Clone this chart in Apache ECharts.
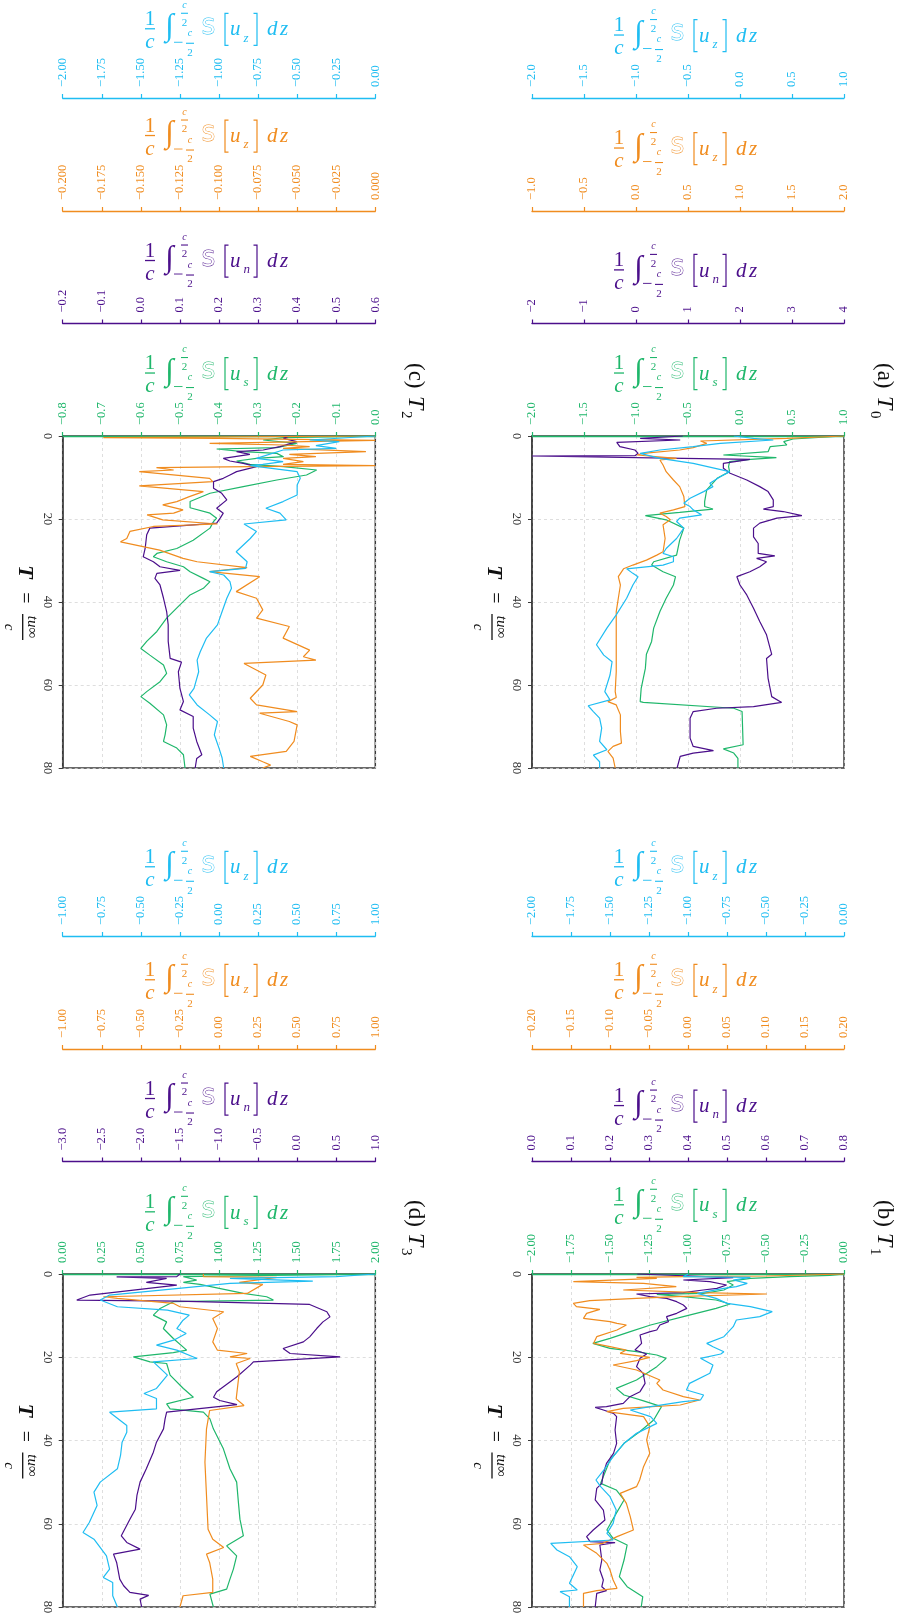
<!DOCTYPE html>
<html><head><meta charset="utf-8">
<script src="https://cdn.jsdelivr.net/npm/echarts@6/dist/echarts.min.js"></script>
<style>html,body{margin:0;padding:0;background:#fff}#c{width:903px;height:1617px}</style>
</head><body><div id="c"></div>
<script>
// ---------- tick ranges [min, max, interval, decimals] ----------
const A_green_axis  = [-2, 1, 0.5, 1];
const A_purple_axis = [-2, 4, 1, 0];
const A_orange_axis = [-1, 2, 0.5, 1];
const A_cyan_axis   = [-2, 1, 0.5, 1];
const B_green_axis  = [-2, 0, 0.25, 2];
const B_purple_axis = [0, 0.8, 0.1, 1];
const B_orange_axis = [-0.2, 0.2, 0.05, 2];
const B_cyan_axis   = [-2, 0, 0.25, 2];
const C_green_axis  = [-0.8, 0, 0.1, 1];
const C_purple_axis = [-0.2, 0.6, 0.1, 1];
const C_orange_axis = [-0.2, 0, 0.025, 3];
const C_cyan_axis   = [-2, 0, 0.25, 2];
const D_green_axis  = [0, 2, 0.25, 2];
const D_purple_axis = [-3, 1, 0.5, 1];
const D_orange_axis = [-1, 1, 0.25, 2];
const D_cyan_axis   = [-1, 1, 0.25, 2];
const T_ticks = [0, 20, 40, 60, 80];

// ---------- data: [T, value] ----------
const A_purple = [[0,0.9],[0.4,0.91],[0.56,0.08],[0.96,0.85],[1.53,-0.37],[2.57,-0.31],[3.37,-0.02],[4.18,0.04],[4.74,-0.02],[4.82,-2.0],[5.38,0.91],[5.62,2.19],[6.58,1.68],[7.79,1.68],[8.99,1.81],[10.6,2.13],[12.2,2.38],[13.4,2.54],[15.4,2.64],[17.0,2.64],[17.6,2.45],[18.2,2.83],[19.2,3.19],[19.8,2.71],[21.0,2.38],[22.2,2.26],[24.3,2.26],[25.9,2.35],[28.3,2.35],[28.9,2.67],[29.5,2.32],[30.3,2.51],[31.5,2.38],[32.7,2.19],[33.9,1.94],[35.9,2.0],[38.3,2.13],[41.5,2.26],[44.7,2.38],[47.9,2.51],[52.6,2.61],[53.6,2.51],[58.4,2.54],[62.8,2.61],[64.2,2.80],[65.2,2.26],[65.6,1.55],[66.4,1.10],[68.0,1.04],[72.8,1.04],[74.8,1.10],[75.8,1.49],[76.4,1.10],[77.2,0.85],[80,0.79]];
const A_green = [[0,1.0],[0.72,0.51],[1.36,0.42],[2.17,0.45],[2.57,0.29],[3.77,0.27],[4.58,-0.16],[5.22,0.35],[5.62,0.10],[6.18,-0.10],[7.39,-0.11],[8.59,-0.10],[10.2,-0.22],[13.0,-0.32],[15.8,-0.34],[17.0,-0.34],[17.6,-0.26],[18.4,-0.58],[19.2,-0.91],[20.2,-0.71],[22.2,-0.54],[25.1,-0.58],[28.7,-0.61],[30.3,-0.83],[31.1,-0.85],[32.7,-0.74],[33.9,-0.62],[35.9,-0.64],[39.1,-0.71],[42.3,-0.77],[46.3,-0.83],[49.5,-0.85],[52.6,-0.90],[56.0,-0.91],[60.8,-0.95],[64.0,-0.96],[64.2,-0.93],[65.6,-0.06],[66.4,0.02],[74.4,0.03],[75.4,-0.16],[76.4,-0.06],[77.7,-0.02],[80,-0.02]];
const A_orange = [[0,2.0],[0.56,1.45],[1.2,0.62],[1.77,0.68],[2.81,0.55],[3.37,0.42],[4.18,0.07],[4.58,0.01],[5.38,0.39],[5.78,0.23],[6.99,0.26],[8.59,0.29],[10.6,0.36],[12.2,0.42],[14.6,0.46],[17.0,0.47],[17.8,0.36],[18.6,0.23],[19.4,0.29],[20.2,0.33],[21.4,0.26],[24.7,0.28],[27.9,0.26],[28.7,0.20],[29.9,0.10],[31.1,-0.03],[32.0,-0.12],[33.9,-0.17],[35.9,-0.15],[39.1,-0.17],[42.3,-0.19],[47.1,-0.19],[52.0,-0.19],[56.8,-0.19],[61.6,-0.20],[63.0,-0.19],[64.0,-0.27],[64.8,-0.19],[67.2,-0.15],[71.2,-0.15],[74.0,-0.14],[74.8,-0.22],[76.0,-0.27],[77.6,-0.22],[80,-0.20]];
const A_cyan = [[0,-0.06],[0.56,0.13],[0.96,0.32],[1.77,-0.19],[2.57,-0.45],[3.37,-0.77],[4.18,-0.96],[5.38,-0.77],[6.58,-0.45],[8.59,-0.10],[9.8,-0.19],[11.4,-0.29],[12.2,-0.26],[13.4,-0.35],[15.0,-0.48],[16.2,-0.54],[17.0,-0.48],[17.8,-0.45],[19.0,-0.37],[19.8,-0.58],[20.6,-0.61],[22.2,-0.54],[24.7,-0.61],[27.1,-0.71],[28.3,-0.74],[29.1,-0.64],[30.3,-0.64],[31.1,-0.74],[32.0,-1.09],[33.1,-1.03],[33.9,-0.98],[35.9,-1.03],[39.1,-1.09],[43.1,-1.19],[46.3,-1.28],[50.3,-1.38],[52.8,-1.31],[54.4,-1.23],[57.6,-1.25],[61.6,-1.30],[63.6,-1.25],[65.0,-1.46],[66.4,-1.41],[68.0,-1.35],[70.4,-1.33],[73.6,-1.35],[75.6,-1.28],[76.9,-1.41],[78.5,-1.35],[80,-1.35]];

const B_green = [[0,0.0],[0.32,-0.09],[0.64,-0.35],[1.04,-0.60],[1.84,-0.75],[2.64,-0.71],[3.84,-0.77],[4.64,-0.90],[4.88,-1.20],[5.45,-1.03],[6.25,-0.82],[7.21,-0.73],[8.25,-0.82],[10.25,-1.03],[12.25,-1.24],[13.85,-1.37],[15.46,-1.50],[16.66,-1.61],[17.86,-1.50],[18.66,-1.33],[19.46,-1.20],[20.26,-1.14],[22.26,-1.20],[25.47,-1.33],[27.47,-1.46],[29.07,-1.41],[30.43,-1.29],[31.87,-1.17],[35.08,-1.22],[37.88,-1.31],[40.68,-1.41],[44.69,-1.50],[50.29,-1.56],[51.89,-1.46],[54.29,-1.41],[57.5,-1.46],[61.5,-1.52],[63.5,-1.48],[65.1,-1.39],[68.71,-1.41],[72.71,-1.44],[75.12,-1.39],[77.52,-1.29],[80,-1.30]];
const B_purple = [[0,0.27],[0.48,0.268],[0.88,0.516],[1.44,0.388],[1.84,0.456],[2.64,0.499],[3.44,0.474],[3.84,0.439],[4.48,0.388],[4.80,0.268],[5.45,0.303],[5.85,0.345],[6.65,0.371],[7.45,0.388],[8.25,0.397],[9.45,0.371],[10.25,0.345],[11.45,0.350],[12.25,0.328],[13.45,0.320],[13.85,0.303],[14.65,0.277],[16.66,0.281],[18.26,0.264],[19.22,0.294],[20.26,0.277],[22.26,0.268],[23.86,0.285],[26.27,0.290],[28.27,0.277],[29.47,0.251],[31.07,0.234],[31.87,0.191],[32.03,0.162],[32.67,0.183],[33.47,0.209],[34.27,0.217],[37.48,0.213],[40.68,0.217],[43.08,0.209],[45.49,0.191],[47.89,0.183],[50.29,0.179],[51.49,0.166],[54.29,0.162],[56.70,0.183],[59.10,0.187],[61.50,0.157],[63.10,0.140],[64.30,0.149],[64.55,0.213],[65.10,0.174],[68.71,0.179],[71.11,0.174],[73.51,0.183],[75.12,0.179],[76.08,0.191],[76.72,0.166],[80,0.162]];
const B_orange = [[0,0.2],[0.16,0.200],[0.48,0.101],[0.64,-0.006],[0.80,-0.066],[1.04,-0.040],[1.84,-0.147],[2.24,-0.057],[3.04,-0.015],[3.84,-0.083],[4.48,0.015],[4.80,0.101],[5.45,-0.015],[5.85,-0.066],[6.41,-0.126],[7.05,-0.147],[7.85,-0.143],[8.49,-0.113],[9.45,-0.130],[10.65,-0.134],[11.45,-0.100],[11.85,-0.091],[12.25,-0.079],[13.45,-0.091],[15.06,-0.117],[16.66,-0.121],[17.46,-0.100],[18.26,-0.079],[19.06,-0.087],[20.02,-0.049],[20.82,-0.066],[21.86,-0.096],[23.06,-0.066],[25.47,-0.036],[26.27,-0.040],[27.87,-0.032],[29.47,-0.006],[30.27,0.015],[31.47,-0.010],[32.27,-0.083],[33.07,-0.104],[34.27,-0.057],[36.68,-0.049],[39.88,-0.053],[43.08,-0.049],[46.29,-0.057],[49.49,-0.062],[51.09,-0.066],[52.69,-0.087],[55.10,-0.079],[58.30,-0.074],[61.50,-0.070],[63.10,-0.091],[64.70,-0.109],[65.10,-0.134],[67.11,-0.117],[69.51,-0.104],[71.11,-0.100],[73.51,-0.096],[75.51,-0.091],[76.08,-0.117],[76.72,-0.134],[80,-0.134]];
const B_cyan = [[0,-1.0],[0.64,-1.03],[0.80,-0.60],[1.44,-0.71],[2.24,-0.62],[3.04,-0.69],[3.44,-0.77],[4.64,-0.94],[5.85,-0.82],[7.05,-0.75],[7.85,-0.60],[9.05,-0.46],[10.25,-0.54],[11.05,-0.69],[12.65,-0.71],[15.06,-0.77],[16.66,-0.88],[17.46,-0.84],[18.66,-0.77],[19.22,-0.79],[20.26,-0.92],[21.86,-0.84],[23.86,-0.86],[26.27,-0.99],[27.87,-1.01],[29.07,-0.90],[30.27,-0.92],[30.67,-1.03],[31.87,-1.24],[32.67,-1.37],[34.27,-1.24],[35.88,-1.20],[38.28,-1.33],[40.68,-1.41],[43.88,-1.48],[47.09,-1.54],[49.49,-1.59],[51.09,-1.56],[53.49,-1.50],[56.70,-1.46],[59.90,-1.48],[62.30,-1.52],[63.90,-1.48],[64.70,-1.88],[66.30,-1.84],[67.91,-1.76],[70.31,-1.71],[72.71,-1.74],[74.31,-1.76],[75.92,-1.71],[76.32,-1.82],[77.52,-1.76],[80,-1.76]];

const C_purple = [[0,0.38],[0.56,0.365],[1.37,0.399],[2.57,0.356],[3.37,0.313],[3.77,0.245],[4.42,0.279],[5.38,0.211],[6.02,0.228],[6.58,0.262],[7.39,0.296],[8.59,0.245],[9.39,0.228],[10.2,0.211],[11.0,0.186],[12.6,0.186],[13.8,0.207],[15.4,0.220],[17.4,0.194],[18.6,0.211],[19.8,0.203],[21.0,0.194],[22.2,0.023],[23.8,0.015],[27.1,0.011],[29.1,0.006],[30.3,0.032],[31.5,0.049],[32.4,0.100],[33.1,0.041],[34.3,0.036],[35.9,0.049],[39.1,0.058],[42.3,0.066],[45.5,0.070],[49.5,0.070],[53.6,0.075],[54.5,0.104],[56.8,0.096],[60.8,0.100],[64.0,0.109],[66.0,0.100],[67.6,0.134],[70.4,0.134],[73.6,0.143],[76.8,0.156],[77.7,0.143],[80,0.139]];
const C_green = [[0,0.0],[0.40,-0.235],[0.96,-0.287],[1.77,-0.201],[2.81,-0.252],[3.13,-0.406],[3.77,-0.338],[4.18,-0.252],[4.98,-0.235],[5.38,-0.304],[6.02,-0.355],[6.83,-0.321],[7.39,-0.235],[8.19,-0.150],[9.39,-0.176],[10.6,-0.252],[12.2,-0.338],[13.8,-0.423],[15.8,-0.474],[17.3,-0.474],[18.6,-0.423],[19.8,-0.406],[20.6,-0.414],[22.2,-0.423],[25.1,-0.466],[27.1,-0.508],[28.3,-0.559],[29.1,-0.568],[30.3,-0.534],[31.5,-0.491],[32.7,-0.474],[34.3,-0.440],[35.1,-0.423],[36.7,-0.440],[38.3,-0.474],[40.7,-0.500],[43.9,-0.534],[47.1,-0.559],[49.5,-0.585],[51.2,-0.600],[52.8,-0.577],[55.2,-0.542],[57.2,-0.534],[59.2,-0.551],[61.6,-0.585],[62.8,-0.600],[64.4,-0.577],[67.2,-0.542],[69.6,-0.534],[72.0,-0.538],[73.6,-0.542],[75.2,-0.508],[76.8,-0.491],[80,-0.487]];
const C_orange = [[0,0.0],[0.40,-0.174],[0.56,-0.101],[1.04,0.0],[1.77,-0.106],[2.17,-0.059],[2.57,-0.042],[2.97,-0.059],[3.77,-0.006],[4.42,-0.055],[4.98,-0.038],[5.38,-0.059],[6.18,-0.046],[6.83,-0.059],[7.15,0.0],[7.39,-0.080],[7.63,-0.140],[8.19,-0.129],[8.59,-0.151],[10.2,-0.106],[11.0,-0.104],[12.0,-0.151],[13.4,-0.110],[14.6,-0.119],[15.8,-0.127],[16.6,-0.136],[17.8,-0.123],[18.6,-0.129],[19.0,-0.146],[20.2,-0.136],[21.2,-0.101],[21.8,-0.142],[23.0,-0.157],[24.7,-0.159],[25.5,-0.163],[27.5,-0.138],[29.5,-0.123],[30.3,-0.114],[31.7,-0.082],[32.7,-0.106],[33.9,-0.074],[37.5,-0.089],[39.1,-0.076],[41.9,-0.072],[43.9,-0.076],[45.9,-0.055],[48.7,-0.059],[51.6,-0.042],[53.2,-0.046],[54.0,-0.038],[54.8,-0.084],[57.6,-0.070],[60.0,-0.072],[63.2,-0.080],[64.8,-0.076],[66.4,-0.050],[66.8,-0.074],[68.8,-0.055],[69.6,-0.050],[73.6,-0.052],[76.0,-0.057],[77.2,-0.080],[78.5,-0.072],[79.3,-0.067],[80,-0.072]];
const C_cyan = [[0,0.0],[0.96,-0.42],[1.37,-0.23],[2.33,-0.38],[2.97,-0.25],[3.37,-0.59],[5.38,-0.76],[6.18,-0.59],[6.83,-0.72],[7.15,-0.80],[8.59,-0.50],[10.2,-0.48],[11.8,-0.50],[14.2,-0.50],[15.8,-0.59],[17.4,-0.70],[18.6,-0.61],[20.2,-0.57],[21.2,-0.84],[23.0,-0.76],[24.7,-0.80],[27.9,-0.89],[30.3,-0.82],[31.9,-0.83],[32.7,-1.06],[33.5,-0.97],[35.1,-0.93],[36.7,-0.92],[39.1,-0.95],[42.3,-0.98],[45.5,-1.01],[48.7,-1.08],[52.0,-1.12],[54.0,-1.14],[56.8,-1.13],[60.8,-1.16],[62.4,-1.19],[64.8,-1.14],[67.2,-1.06],[68.8,-1.01],[72.0,-1.03],[75.2,-1.00],[77.6,-0.98],[80,-0.97]];

const D_purple = [[0,-1.5],[0.64,-1.54],[0.70,-2.31],[1.04,-1.67],[2.01,-1.93],[2.65,-1.54],[5.06,-2.65],[6.26,-2.82],[6.50,-1.54],[7.31,0.16],[9.07,0.38],[10.3,0.42],[11.5,0.33],[13.1,0.25],[15.1,0.16],[16.3,0.08],[17.9,-0.18],[19.1,-0.09],[19.9,0.55],[21.1,-0.56],[21.9,-0.60],[24.7,-0.77],[28.3,-1.03],[29.6,-1.07],[30.4,-0.99],[31.4,-0.77],[32.0,-1.07],[33.2,-1.67],[34.8,-1.69],[37.2,-1.71],[40.4,-1.80],[42.8,-1.84],[46.8,-1.93],[50.0,-2.01],[53.2,-2.05],[56.5,-2.07],[58.9,-2.14],[62.9,-2.25],[64.5,-2.18],[66.1,-2.01],[67.3,-2.35],[69.3,-2.31],[73.3,-2.27],[74.9,-2.22],[76.5,-2.14],[77.2,-1.90],[78.1,-2.01],[80,-1.99]];
const D_green = [[0,2.0],[0.64,0.772],[1.45,0.857],[2.01,0.772],[2.49,0.878],[4.66,1.156],[5.46,1.305],[6.26,1.348],[6.66,0.708],[8.27,0.623],[9.88,0.580],[11.5,0.665],[13.1,0.644],[15.5,0.708],[18.3,0.793],[18.9,0.708],[19.9,0.452],[21.1,0.559],[21.5,0.665],[24.3,0.687],[27.5,0.772],[29.6,0.836],[31.2,0.665],[32.4,0.687],[33.2,0.900],[34.8,0.942],[37.2,0.964],[42.0,1.028],[46.8,1.070],[50.0,1.113],[54.8,1.124],[58.9,1.134],[62.9,1.156],[65.3,1.049],[67.7,1.113],[70.9,1.092],[73.3,1.070],[75.7,1.049],[76.9,0.942],[80,0.964]];
const D_orange = [[0,-0.1],[0.64,-0.10],[0.80,0.37],[2.01,0.13],[2.49,0.28],[4.66,0.18],[5.46,-0.74],[5.86,-0.65],[7.07,-0.29],[7.87,-0.25],[9.07,0.03],[10.7,-0.04],[13.1,-0.01],[16.3,-0.04],[18.3,-0.01],[19.1,0.18],[19.9,0.07],[20.3,0.20],[21.5,0.11],[23.5,0.13],[30.0,0.11],[31.6,0.16],[32.8,-0.06],[37.2,-0.08],[45.2,-0.09],[53.2,-0.08],[61.3,-0.07],[63.7,-0.04],[65.7,0.03],[67.3,-0.08],[69.3,-0.06],[73.3,-0.04],[76.5,-0.04],[77.3,-0.23],[80,-0.25]];
const D_cyan = [[0,1.0],[0.64,0.75],[1.04,0.07],[1.69,0.60],[2.25,0.07],[5.06,-0.70],[6.26,-0.76],[7.87,-0.65],[8.67,-0.33],[9.88,-0.19],[11.1,-0.23],[13.1,-0.27],[14.3,-0.21],[15.9,-0.29],[17.1,-0.40],[18.3,-0.27],[20.3,-0.14],[21.1,-0.42],[24.3,-0.33],[27.5,-0.40],[28.7,-0.48],[29.9,-0.40],[32.4,-0.40],[33.2,-0.70],[36.4,-0.59],[38.0,-0.59],[40.4,-0.62],[43.6,-0.63],[46.8,-0.65],[50.0,-0.76],[52.4,-0.80],[55.6,-0.78],[59.7,-0.83],[62.1,-0.87],[63.7,-0.80],[67.7,-0.72],[70.9,-0.70],[72.9,-0.74],[74.1,-0.68],[77.3,-0.68],[80,-0.65]];

// ---------- style / layout ----------
const COLORS = {green:'#1fb76b', purple:'#4b0f8b', orange:'#f08c1f', cyan:'#1fbdf2'};
const SUBS = {green:'s', purple:'n', orange:'z', cyan:'z'};
const OFFSETS = {green:0, purple:112.5, orange:225, cyan:338};
const ORDER = ['green','purple','orange','cyan'];
const SERIF = "'Liberation Serif', 'Times New Roman', serif";
const LABEL_FS = 12.5;

const panels = [
  {lab:'(a)', sub:'0', grid:{left:532, top:436, width:312, height:332},
   axes:{green:A_green_axis, purple:A_purple_axis, orange:A_orange_axis, cyan:A_cyan_axis},
   data:{green:A_green, purple:A_purple, orange:A_orange, cyan:A_cyan}},
  {lab:'(b)', sub:'1', grid:{left:532, top:1274, width:312, height:333},
   axes:{green:B_green_axis, purple:B_purple_axis, orange:B_orange_axis, cyan:B_cyan_axis},
   data:{green:B_green, purple:B_purple, orange:B_orange, cyan:B_cyan}},
  {lab:'(c)', sub:'2', grid:{left:62.7, top:436, width:312.6, height:332},
   axes:{green:C_green_axis, purple:C_purple_axis, orange:C_orange_axis, cyan:C_cyan_axis},
   data:{green:C_green, purple:C_purple, orange:C_orange, cyan:C_cyan}},
  {lab:'(d)', sub:'3', grid:{left:62.7, top:1274, width:312.6, height:333},
   axes:{green:D_green_axis, purple:D_purple_axis, orange:D_orange_axis, cyan:D_cyan_axis},
   data:{green:D_green, purple:D_purple, orange:D_orange, cyan:D_cyan}},
];

const fmt = (v, d) => { if (Math.abs(v) < 1e-9) v = 0; return v.toFixed(d).replace('-', '\u2212'); };
const mctx = document.createElement('canvas').getContext('2d');
mctx.font = LABEL_FS + "px 'Liberation Serif'";
function maxLabelWidth(r) {
  let w = 0; const n = Math.round((r[1]-r[0])/r[2]);
  for (let i = 0; i <= n; i++) w = Math.max(w, mctx.measureText(fmt(r[0]+i*r[2], r[3])).width);
  return w;
}

function formula(cx, cy, color, sub) {
  const F = "italic 21px " + SERIF;
  const T = (text, x, y, font, align) => ({type:'text', x, y, silent:true,
    style:{text, font, fill:color, textAlign:align||'center', textVerticalAlign:'middle'}});
  const L = (x1,y1,x2,y2,w) => ({type:'line', silent:true, shape:{x1,y1,x2,y2}, style:{stroke:color, lineWidth:w||1.1}});
  return {type:'group', x:cx, y:cy, silent:true, children:[
    T('1', -69, -11, "21px " + SERIF),
    L(-74,-1.5,-64,-1.5,1.3),
    T('c', -69, 12, F),
    T('\u222B', -49.5, -3, "italic 31px " + SERIF),
    T('c', -34.5, -25, "italic 10px " + SERIF),
    L(-38,-17,-31,-17,1.1),
    T('2', -34.5, -7.5, "11px " + SERIF),
    L(-45,12,-36.5,12,0.9),
    T('c', -29, 3, "italic 10px " + SERIF),
    L(-33,13,-25,13,1.1),
    T('2', -29, 22.5, "11px " + SERIF),
    {type:'text', x:-10.5, y:-1.5, silent:true, style:{text:'S', font:"21px 'DejaVu Sans'", fill:'#ffffff', stroke:color, lineWidth:0.9, textAlign:'center', textVerticalAlign:'middle'}},
    {type:'polyline', silent:true, shape:{points:[[9.5,-17],[6,-17],[6,15],[9.5,15]]}, style:{stroke:color, lineWidth:1.2, fill:'none'}},
    T('u', 11, -0.3, F, 'left'),
    T(sub, 24.5, 8, "italic 13px " + SERIF, 'left'),
    {type:'polyline', silent:true, shape:{points:[[34.5,-17],[38,-17],[38,15],[34.5,15]]}, style:{stroke:color, lineWidth:1.2, fill:'none'}},
    T('d', 48, -0.3, F, 'left'),
    T('z', 61, -0.3, F, 'left'),
  ]};
}

function titleGroup(cx, cy, lab, sub) {
  const c = '#111';
  return {type:'group', x:cx, y:cy, rotation:-Math.PI/2, silent:true, children:[
    {type:'text', x:-31, y:0, style:{text:lab, font:"23px " + SERIF, fill:c, textAlign:'left', textVerticalAlign:'middle'}},
    {type:'text', x:2, y:0, style:{text:'T', font:"italic 24px " + SERIF, fill:c, textAlign:'left', textVerticalAlign:'middle'}},
    {type:'text', x:17, y:9, style:{text:sub, font:"15px " + SERIF, fill:c, textAlign:'left', textVerticalAlign:'middle'}},
  ]};
}

function tName(cx, cy) {
  const c = '#111';
  const T = (text, x, y, font) => ({type:'text', x, y, style:{text, font, fill:c, textAlign:'center', textVerticalAlign:'middle'}});
  return {type:'group', x:cx, y:cy, rotation:-Math.PI/2, silent:true, children:[
    T('T', -30, -1, "bold italic 22px " + SERIF),
    T('=', -4, -1, "20px " + SERIF),
    {type:'line', shape:{x1:12, y1:1, x2:38, y2:1}, style:{stroke:c, lineWidth:1.3}},
    T('tu\u221E', 25, -8, "italic 15px " + SERIF),
    T('c', 25, 15, "italic 15px " + SERIF),
  ]};
}

const grids = [], xAxes = [], yAxes = [], series = [], graphics = [];
panels.forEach((p, gi) => {
  const g = p.grid;
  grids.push({left:g.left, top:g.top, width:g.width, height:g.height, containLabel:false,
    show:true, borderColor:'#3a3a3a', borderWidth:1.5, backgroundColor:'transparent'});
  yAxes.push({type:'value', gridIndex:gi, inverse:true, min:0, max:80, interval:20, position:'left',
    axisLine:{show:true, onZero:false, lineStyle:{color:'#3a3a3a', width:1.5}},
    axisTick:{show:true, length:4, lineStyle:{color:'#3a3a3a', width:1}},
    axisLabel:{rotate:-90, margin:9, color:'#333', fontFamily:SERIF, fontSize:LABEL_FS,
      formatter: v => T_ticks.includes(v) ? String(v) : ''},
    splitLine:{show:true, lineStyle:{color:'#d6d6d6', type:[3,3], width:0.8}}});
  const yIdx = gi;
  ORDER.forEach(key => {
    const r = p.axes[key], col = COLORS[key];
    const xi = xAxes.length;
    xAxes.push({type:'value', gridIndex:gi, position:'top', offset:OFFSETS[key],
      min:r[0], max:r[1], interval:r[2],
      axisLine:{show:true, onZero:false, lineStyle:{color:col, width:1.3}},
      axisTick:{show:true, length:4, lineStyle:{color:col, width:1.2}},
      axisLabel:{show:true, rotate:-90, margin:11, color:col, fontFamily:SERIF, fontSize:LABEL_FS,
        showMinLabel:true, showMaxLabel:true, formatter: v => fmt(v, r[3])},
      splitLine:{show:key === 'green', lineStyle:{color:'#d6d6d6', type:[3,3], width:0.8}}});
    series.push({type:'line', xAxisIndex:xi, yAxisIndex:yIdx, showSymbol:false, symbol:'none',
      lineStyle:{color:col, width:1.2}, itemStyle:{color:col}, z:3,
      data: p.data[key].map(d => [d[1], d[0]])});
    // axis name (formula)
    const axisY = g.top - OFFSETS[key];
    const cy = axisY - 11.3 - maxLabelWidth(r) - 1 - 26.5;
    graphics.push(formula(g.left + g.width/2, cy, col, SUBS[key]));
  });
  graphics.push(titleGroup(g.left + g.width + 40, g.top - 42 - (g.top > 1000 ? 1 : 0), p.lab, p.sub));
  graphics.push(tName(g.left - 39, g.top + g.height/2));
});

const chart = echarts.init(document.getElementById('c'), null, {renderer:'canvas'});
chart.setOption({
  animation:false, backgroundColor:'#ffffff',
  grid:grids, xAxis:xAxes, yAxis:yAxes, series, graphic:{elements:graphics}
});
</script>
</body></html>
